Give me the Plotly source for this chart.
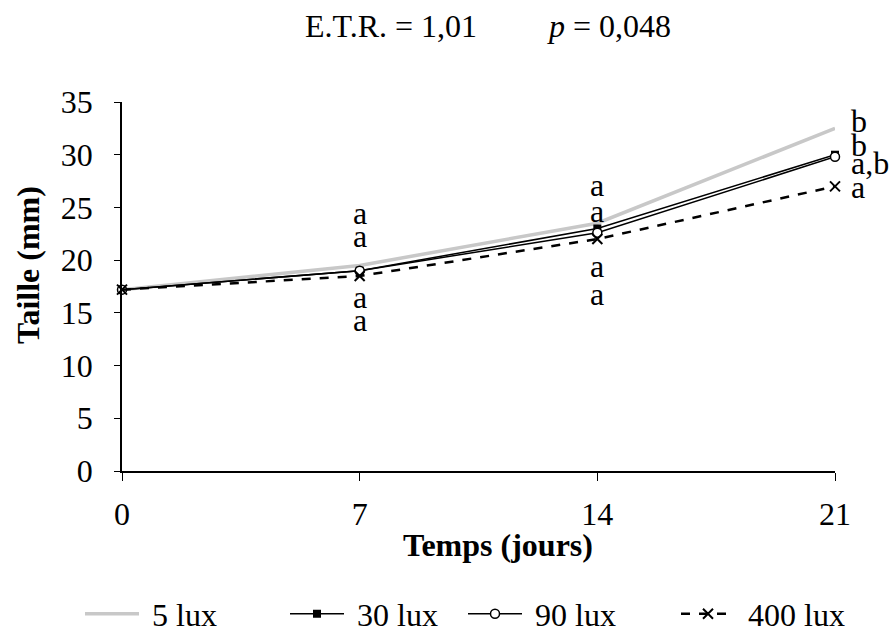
import plotly.graph_objects as go

days = [0, 7, 14, 21]
lux5 = [17.2, 19.5, 23.5, 32.5]
lux30 = [17.2, 19.0, 23.0, 30.0]
lux90 = [17.2, 19.0, 22.6, 29.8]
lux400 = [17.2, 18.5, 22.0, 27.0]

x_ticks = [0, 7, 14, 21]
y_ticks = [0, 5, 10, 15, 20, 25, 30, 35]

# significance letters
letters_x = [7, 7, 7, 7, 14, 14, 14, 14]
letters_y = [24.5, 22.3, 16.5, 14.3, 27.1, 24.7, 19.4, 16.8]
letters_t = ["a", "a", "a", "a", "a", "a", "a", "a"]
end_letters_y = [33.2, 30.9, 29.2, 26.9]
end_letters_t = ["b", "b", "a,b", "a"]

series_names = ["5 lux", "30 lux", "90 lux", "400 lux"]

FONT = "Liberation Serif, Times New Roman, serif"
FS = 32
NB = "\u00a0"

fig = go.Figure()
fig.add_trace(go.Scatter(x=days, y=lux5, name=NB + series_names[0], mode="lines",
                         line=dict(color="#c8c8c8", width=3.5),
                         cliponaxis=False, legend="legend"))
fig.add_trace(go.Scatter(x=days, y=lux30, name=NB + series_names[1], mode="lines+markers",
                         line=dict(color="black", width=1.5),
                         marker=dict(symbol="square", size=8, color="black"),
                         cliponaxis=False, legend="legend2"))
fig.add_trace(go.Scatter(x=days, y=lux90, name=NB + series_names[2], mode="lines+markers",
                         line=dict(color="black", width=1.5),
                         marker=dict(symbol="circle", size=9, color="white",
                                     line=dict(width=1.5, color="black")),
                         cliponaxis=False, legend="legend3"))
fig.add_trace(go.Scatter(x=days, y=lux400, name=NB + series_names[3], mode="lines+markers",
                         line=dict(color="black", width=2.5, dash="dash"),
                         marker=dict(symbol="x-thin", size=10, color="black",
                                     line=dict(width=2, color="black")),
                         cliponaxis=False, legend="legend4"))

for xv, yv, t in zip(letters_x, letters_y, letters_t):
    fig.add_annotation(x=xv, y=yv, text=t, showarrow=False,
                       font=dict(family=FONT, size=FS, color="black"))
for yv, t in zip(end_letters_y, end_letters_t):
    fig.add_annotation(x=21, y=yv, text=t, showarrow=False, xanchor="left",
                       xshift=14,
                       font=dict(family=FONT, size=FS, color="black"))

# axis titles as annotations (positioned like the reference)
fig.add_annotation(text="<b>Temps (jours)</b>", xref="paper", yref="paper",
                   x=(498 - 122) / 713, y=-(545 - 471) / 369, showarrow=False,
                   xanchor="center", yanchor="middle",
                   font=dict(family=FONT, size=FS, color="black"))
fig.add_annotation(text="<b>Taille (mm)</b>", xref="paper", yref="paper",
                   x=-(122 - 28) / 713, y=(471 - 265) / 369, showarrow=False,
                   textangle=-90, xanchor="center", yanchor="middle",
                   font=dict(family=FONT, size=FS, color="black"))

leg_common = dict(orientation="h", xref="container", yref="container",
                  xanchor="left", yanchor="middle", y=1 - 614 / 635,
                  font=dict(family=FONT, size=FS), itemwidth=54,
                  bgcolor="rgba(0,0,0,0)")
fig.update_layout(
    width=895, height=635,
    margin=dict(l=122, r=60, t=102, b=164, autoexpand=False),
    paper_bgcolor="white", plot_bgcolor="white",
    font=dict(family=FONT, size=FS, color="black"),
    title=dict(text="E.T.R. = 1,01" + NB * 9 + "<i>p</i> = 0,048",
               x=488 / 895, xanchor="center", y=1 - 26 / 635, yanchor="middle",
               font=dict(family=FONT, size=FS)),
    showlegend=True,
    legend=dict(x=80 / 895, **leg_common),
    legend2=dict(x=285 / 895, **leg_common),
    legend3=dict(x=463 / 895, **leg_common),
    legend4=dict(x=676 / 895, **leg_common),
)
fig.update_xaxes(range=[0, 21], tickvals=x_ticks, ticktext=[str(v) for v in x_ticks],
                 showline=True, linecolor="black", linewidth=1.5, ticks="outside",
                 ticklen=8, tickcolor="black", showgrid=False, zeroline=False,
                 automargin=False, ticklabelstandoff=6,
                 tickfont=dict(family=FONT, size=FS))
fig.update_yaxes(range=[0, 35], tickvals=y_ticks, ticktext=[str(v) for v in y_ticks],
                 showline=True, linecolor="black", linewidth=1.5, ticks="outside",
                 ticklen=6, tickcolor="black", showgrid=False, zeroline=False,
                 automargin=False, ticklabelstandoff=15,
                 tickfont=dict(family=FONT, size=FS))

fig.write_html("out.html", config={"displayModeBar": False},
               post_script="document.body.style.margin='0';document.body.style.overflow='hidden';")
